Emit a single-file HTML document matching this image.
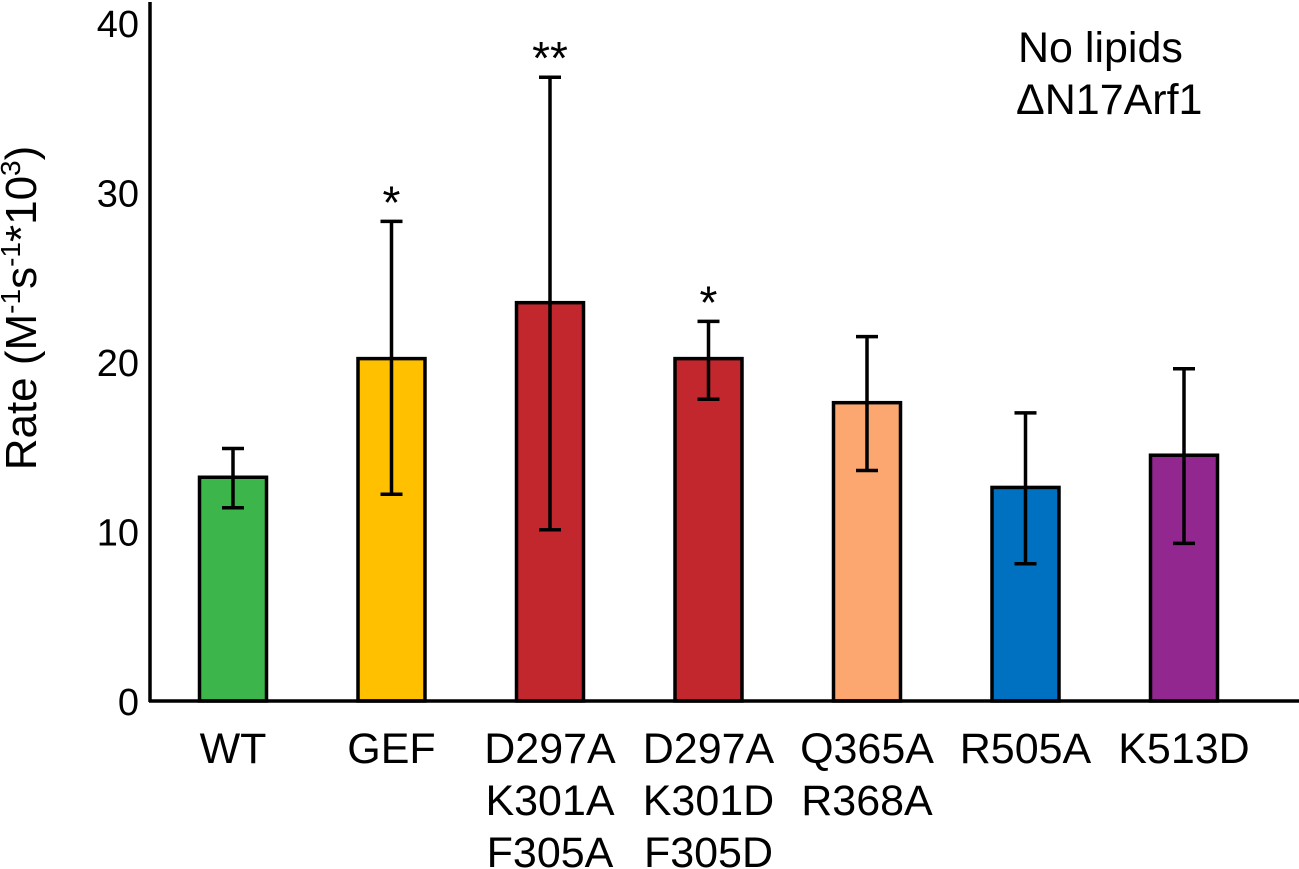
<!DOCTYPE html>
<html><head><meta charset="utf-8"><style>
html,body{margin:0;padding:0;background:#fff;}
svg{display:block;font-family:"Liberation Sans",Arial,sans-serif;}
</style></head><body>
<svg id="chart" width="1299" height="869" viewBox="0 0 1299 869">
<g id="bars"></g>
<g id="labels"></g>
<g id="yticks"></g>
<line x1="150" y1="2" x2="150" y2="702" stroke="#000" stroke-width="3.5"/>
<line x1="149" y1="701" x2="1299" y2="701" stroke="#000" stroke-width="3.5"/>
<text transform="translate(36,308) rotate(-90)" text-anchor="middle" font-size="44">Rate (M<tspan font-size="28" dy="-16">-1</tspan><tspan dy="16">s</tspan><tspan font-size="28" dy="-16">-1</tspan><tspan dy="16">*10</tspan><tspan font-size="28" dy="-16">3</tspan><tspan dy="16">)</tspan></text>
<text x="1018" y="62" font-size="43">No lipids</text>
<text x="1016" y="114" font-size="43">ΔN17Arf1</text>
</svg>
<script>
const categories = [["WT"],["GEF"],["D297A","K301A","F305A"],["D297A","K301D","F305D"],["Q365A","R368A"],["R505A"],["K513D"]];
const values = [13.2, 20.2, 23.5, 20.2, 17.6, 12.6, 14.5];
const errHigh = [14.9, 28.3, 36.8, 22.4, 21.5, 17.0, 19.6];
const errLow = [11.4, 12.2, 10.1, 17.8, 13.6, 8.1, 9.3];
const sigMarks = ["", "*", "**", "*", "", "", ""];
const colors = ["#3cb54a","#ffc000","#c1272d","#c1272d","#fba76f","#0070c0","#92278f"];
const yTicks = [0, 10, 20, 30, 40];

const NS = "http://www.w3.org/2000/svg";
function yScale(v){ return 701 - v * 16.95; }
function xCenter(i){ return 233 + i * 158.5; }
const barW = 67;
function mk(tag, attrs, parent){
  const e = document.createElementNS(NS, tag);
  for (const k in attrs) e.setAttribute(k, attrs[k]);
  parent.appendChild(e);
  return e;
}
const gb = document.getElementById('bars');
const gl = document.getElementById('labels');
const gy = document.getElementById('yticks');
values.forEach((v, i) => {
  const cx = xCenter(i);
  const r = mk('rect', {x: cx - barW/2, y: yScale(v), width: barW, height: 701 - yScale(v), fill: colors[i], stroke: '#000', 'stroke-width': 3.5}, gb);
  
  
  const e = mk('path', {d: `M${cx},${yScale(errHigh[i])}V${yScale(errLow[i])}M${cx-11},${yScale(errHigh[i])}H${cx+11}M${cx-11},${yScale(errLow[i])}H${cx+11}`, stroke: '#000', 'stroke-width': 3.5, fill: 'none'}, gb);
  
  
  if (sigMarks[i]) {
    const s = mk('text', {x: cx, y: yScale(errHigh[i]) - 3, 'text-anchor': 'middle', 'font-size': 46}, gb);
    s.textContent = sigMarks[i];
    
    
  }
  categories[i].forEach((line, j) => {
    const t = mk('text', {x: cx, y: 763 + j * 52, 'text-anchor': 'middle', 'font-size': 43}, gl);
    t.textContent = line;
    
    
  });
});
yTicks.forEach(v => {
  const t = mk('text', {x: 139, y: yScale(v) + 14, 'text-anchor': 'end', 'font-size': 38}, gy);
  t.textContent = v;
  
  
});
</script>
</body></html>
